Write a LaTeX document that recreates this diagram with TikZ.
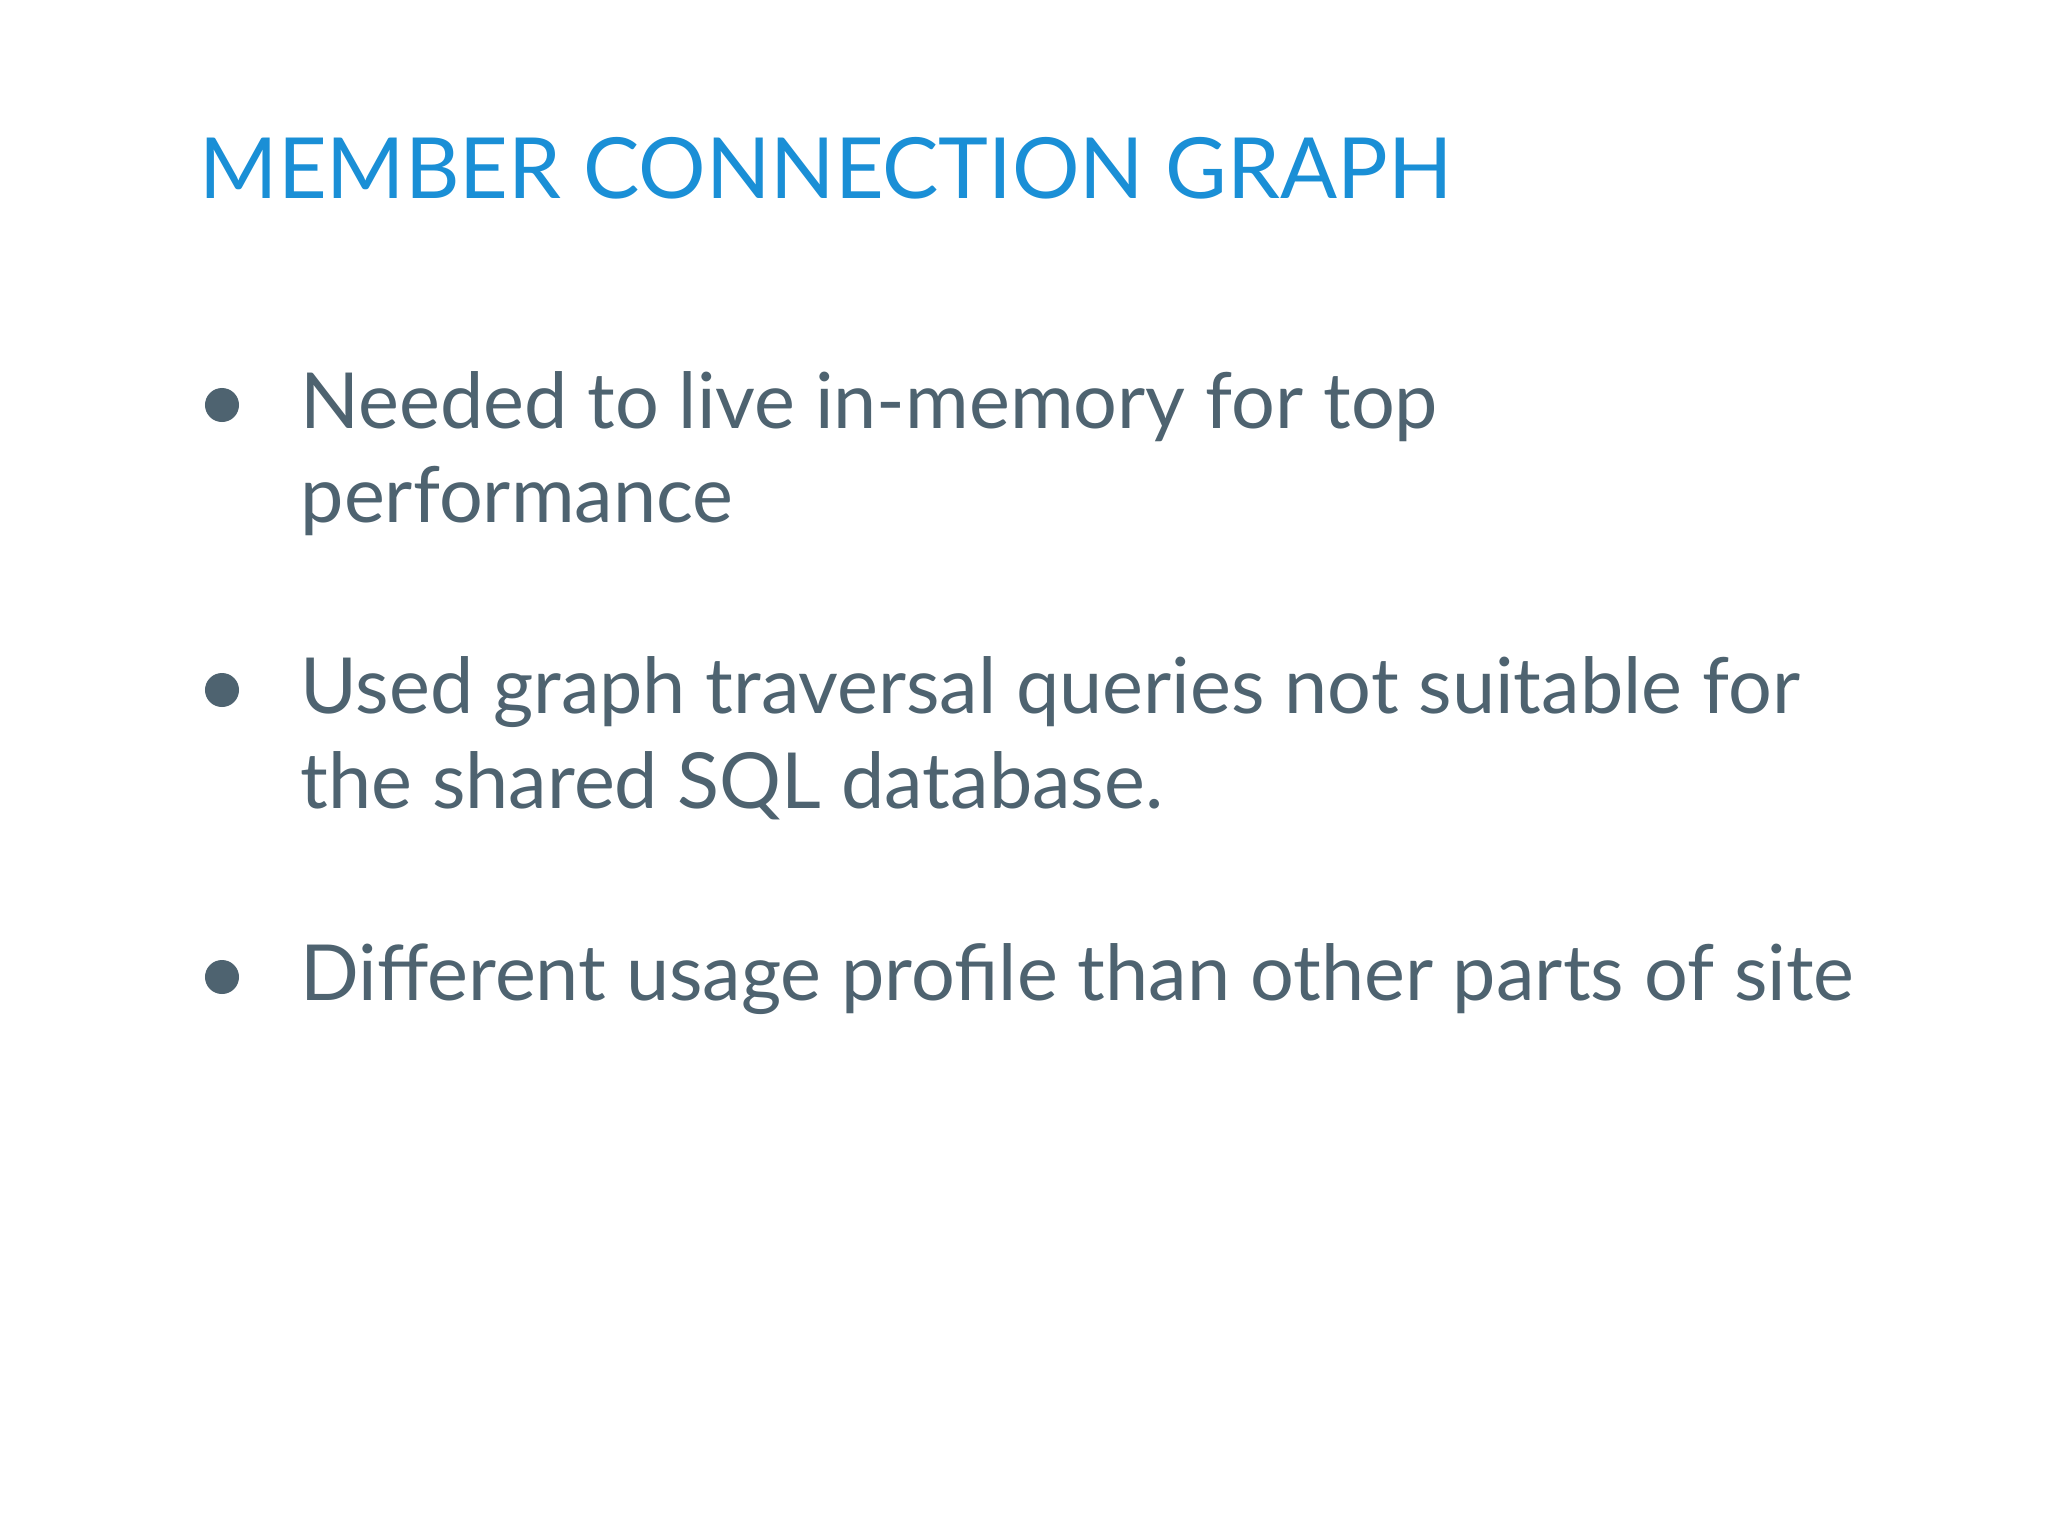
\documentclass[tikz,border=0pt]{standalone}
\usepackage{fontspec}
\setmainfont{Lato}
\definecolor{ttl}{HTML}{1A8FD6}
\definecolor{txt}{HTML}{4E6370}
\begin{document}
\begin{tikzpicture}[x=0.01cm,y=-0.01cm,
  tl/.style={anchor=base west,inner sep=0,text=ttl,font=\fontsize{24}{29}\selectfont},
  bt/.style={anchor=base west,inner sep=0,text=txt,font=\fontsize{22}{27}\selectfont},
  dot/.style={circle,fill=txt,inner sep=0,minimum size=0.34cm}]
\useasboundingbox (0,0) rectangle (2048,1536);
\fill[white] (0,0) rectangle (2048,1536);
\node[tl] (title) at (199,198) {MEMBER CONNECTION GRAPH};
\node[dot] (d1) at (222,405) {};
\node[bt] (l1a) at (300,428) {Needed to live in-memory for top};
\node[bt] (l1b) at (300,522) {performance};
\node[dot] (d2) at (222,690) {};
\node[bt] (l2a) at (300,713) {Used graph traversal queries not suitable for};
\node[bt] (l2b) at (300,808) {the shared SQL database.};
\node[dot] (d3) at (222,977) {};
\node[bt] (l3) at (300,1000) {Different usage profile than other parts of site};
\end{tikzpicture}
\end{document}
